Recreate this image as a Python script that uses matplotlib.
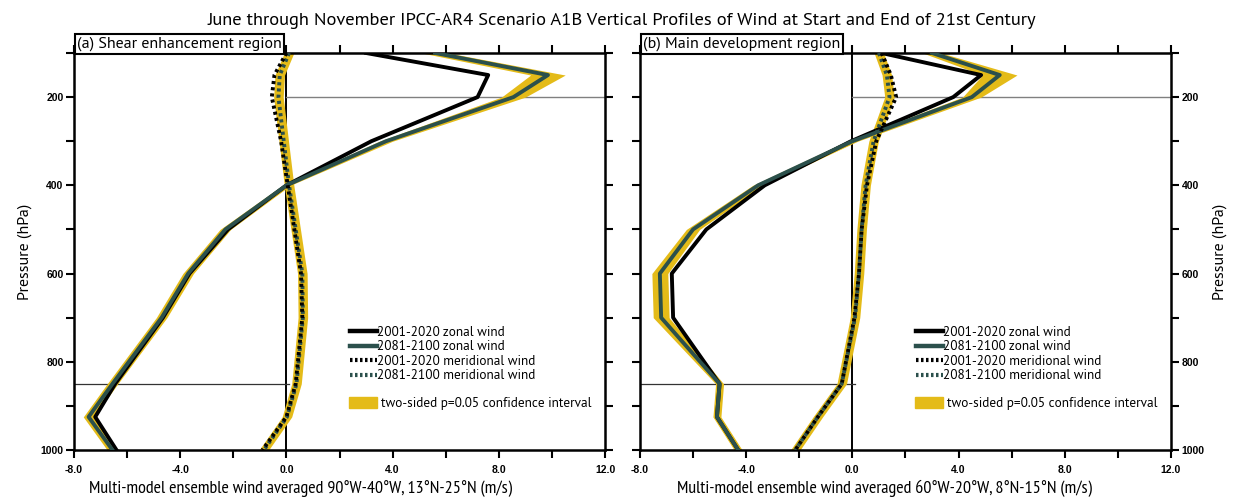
import numpy as np
import matplotlib
matplotlib.use("Agg")
import matplotlib.pyplot as plt
from matplotlib.lines import Line2D
from matplotlib.patches import Patch

# pressure levels (hPa)
levels = [100, 150, 200, 300, 400, 500, 600, 700, 850, 925, 1000]

# (a) shear enhancement region
u_now_a = [3.0, 7.6, 7.2, 3.2, 0.0, -2.2, -3.65, -4.65, -6.45, -7.2, -6.4]
u_fut_a = [5.6, 9.85, 8.55, 3.75, 0.0, -2.3, -3.7, -4.7, -6.55, -7.45, -6.55]
u_ci_a = [0.5, 0.65, 0.45, 0.25, 0.15, 0.2, 0.2, 0.2, 0.2, 0.2, 0.2]
v_now_a = [0.0, -0.45, -0.55, -0.2, 0.05, 0.3, 0.55, 0.6, 0.35, 0.0, -0.9]
v_fut_a = [0.1, -0.25, -0.3, -0.1, 0.1, 0.35, 0.6, 0.62, 0.38, 0.02, -0.85]
v_ci_a = [0.18] * 11

# (b) main development region
u_now_b = [1.1, 4.85, 3.8, -0.05, -3.3, -5.5, -6.8, -6.75, -5.0, -5.1, -4.3]
u_fut_b = [3.0, 5.55, 4.5, 0.0, -3.55, -6.0, -7.25, -7.2, -5.0, -5.1, -4.3]
u_ci_b = [0.35, 0.65, 0.35, 0.2, 0.2, 0.25, 0.3, 0.3, 0.15, 0.15, 0.15]
v_now_b = [1.1, 1.45, 1.65, 0.9, 0.55, 0.35, 0.25, 0.08, -0.4, -1.3, -2.15]
v_fut_b = [1.0, 1.3, 1.4, 0.8, 0.5, 0.35, 0.25, 0.1, -0.4, -1.3, -2.15]
v_ci_b = [0.18] * 11

xticks = np.arange(-8, 12.1, 2)
xticklabels = ["-8.0", "", "-4.0", "", "0.0", "", "4.0", "", "8.0", "", "12.0"]
yticks = np.arange(100, 1001, 100)
yticklabels = ["", "200", "", "400", "", "600", "", "800", "", "1000"]

TEAL = "#2b504c"
GOLD = "#e4bb18"
MAIN_FONT = ["PT Sans", "DejaVu Sans"]
NARROW_FONT = ["PT Sans Narrow", "DejaVu Sans"]
TICK_FONT = ["Liberation Sans", "DejaVu Sans"]


def draw_panel(ax, u_now, u_fut, u_ci, v_now, v_fut, v_ci, label, xlabel, side, xlab_x):
    p = np.array(levels)
    uf = np.array(u_fut)
    vf = np.array(v_fut)
    uc = np.array(u_ci)
    vc = np.array(v_ci)

    # reference lines
    ax.axvline(0, color="black", lw=1.4, zorder=1)
    ax.plot([0, 12], [200, 200], color="#808080", lw=1.0, zorder=1)
    ax.plot([-8, 0.1], [850, 850], color="#333333", lw=0.9, zorder=1)

    # confidence bands
    ax.fill_betweenx(p, uf - uc, uf + uc, color=GOLD, lw=0, zorder=2)
    ax.fill_betweenx(p, vf - vc, vf + vc, color=GOLD, lw=0, zorder=2)

    # zonal wind
    ax.plot(u_now, p, color="black", lw=2.8, zorder=3)
    ax.plot(u_fut, p, color=TEAL, lw=2.8, zorder=4)

    # meridional wind
    ax.plot(v_fut, p, color=TEAL, lw=2.8, ls=(0, (0.8, 0.8)), zorder=3)
    ax.plot(v_now, p, color="black", lw=2.8, ls=(0, (0.8, 0.8)), zorder=4)

    ax.set_xlim(-8, 12)
    ax.set_ylim(1000, 100)
    ax.set_xticks(xticks)
    ax.set_xticklabels(xticklabels)
    ax.set_yticks(yticks)
    ax.set_yticklabels(yticklabels)
    ax.tick_params(direction="out", length=6, width=1.5, top=True, right=True,
                   left=True, bottom=True, labelsize=7.5)
    ax.tick_params(axis="x", pad=5)
    ax.tick_params(axis="y", pad=1.5)
    if side == "right":
        ax.tick_params(labelleft=False, labelright=True)
        ax.yaxis.set_label_position("right")
    for t in ax.get_xticklabels() + ax.get_yticklabels():
        t.set_family(TICK_FONT)
        t.set_fontweight("bold")
    for s in ax.spines.values():
        s.set_linewidth(1.8)

    ax.set_xlabel(xlabel, family=NARROW_FONT, fontsize=13, labelpad=2)
    ax.xaxis.set_label_coords(xlab_x, -0.075)
    ax.set_ylabel("Pressure (hPa)", family=MAIN_FONT, fontsize=11.5, labelpad=6)

    ax.text(0.006, 1.004, label, transform=ax.transAxes, va="bottom", ha="left",
            family=MAIN_FONT, fontsize=11.5, zorder=10, clip_on=False,
            bbox=dict(boxstyle="square,pad=0.15", fc="white", ec="black", lw=1.5))

    handles = [
        Line2D([], [], color="black", lw=3.2),
        Line2D([], [], color=TEAL, lw=3.2),
        Line2D([], [], color="black", lw=3.0, ls=(0, (0.6, 0.6))),
        Line2D([], [], color=TEAL, lw=3.0, ls=(0, (0.6, 0.6))),
    ]
    names = ["2001-2020 zonal wind", "2081-2100 zonal wind",
             "2001-2020 meridional wind", "2081-2100 meridional wind"]
    leg = ax.legend(handles, names, loc="upper left", bbox_to_anchor=(0.508, 0.33),
                    frameon=False, borderpad=0, handlelength=2.0, handletextpad=0.05,
                    labelspacing=0.12, prop=dict(family=MAIN_FONT, size=9.5))
    ax.add_artist(leg)
    ax.legend([Patch(color=GOLD)], ["two-sided p=0.05 confidence interval"],
              loc="upper left", bbox_to_anchor=(0.506, 0.15), frameon=False,
              borderpad=0, handlelength=2.1, handleheight=0.9, handletextpad=0.3,
              prop=dict(family=MAIN_FONT, size=9.5))


fig = plt.figure(figsize=(12.33, 4.98), dpi=100)
ax1 = fig.add_axes([0.060, 0.0964, 0.4307, 0.7972])
ax2 = fig.add_axes([0.519, 0.0964, 0.4307, 0.7972])

draw_panel(ax1, u_now_a, u_fut_a, u_ci_a, v_now_a, v_fut_a, v_ci_a,
           "(a) Shear enhancement region",
           "Multi-model ensemble wind averaged 90°W-40°W, 13°N-25°N (m/s)", "left", 0.426)
draw_panel(ax2, u_now_b, u_fut_b, u_ci_b, v_now_b, v_fut_b, v_ci_b,
           "(b) Main development region",
           "Multi-model ensemble wind averaged 60°W-20°W, 8°N-15°N (m/s)", "right", 0.461)

fig.text(0.504, 0.958, "June through November IPCC-AR4 Scenario A1B Vertical Profiles of "
         "Wind at Start and End of 21st Century", ha="center", va="center",
         family=MAIN_FONT, fontsize=13.3)

fig.savefig("out.png", dpi=100)
